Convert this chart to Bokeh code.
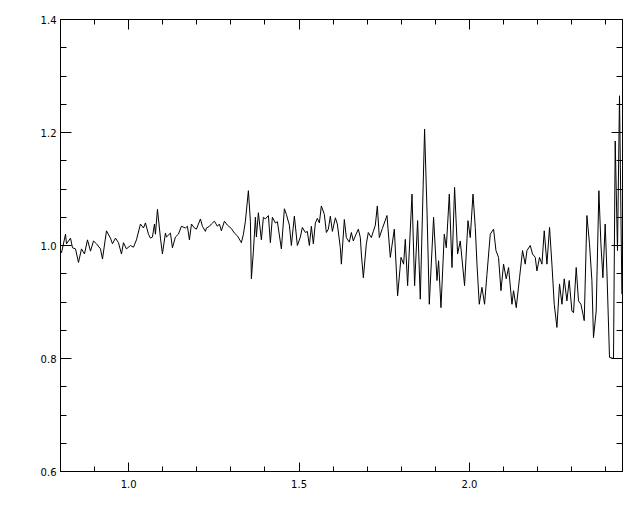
import numpy as np
from bokeh.plotting import figure
from bokeh.models import Range1d, LinearAxis, FixedTicker, PrintfTickFormatter, CustomJSTickFormatter
from bokeh.embed import file_html
from bokeh.resources import INLINE

# ---- data ----
wavelength = [
    0.8000, 0.8029, 0.8147, 0.8176, 0.8293, 0.8352, 0.8440, 0.8528, 0.8616, 0.8704,
    0.8792, 0.8880, 0.8968, 0.9056, 0.9173, 0.9232, 0.9349, 0.9466, 0.9525, 0.9613,
    0.9701, 0.9789, 0.9848, 0.9935, 1.0053, 1.0141, 1.0229, 1.0346, 1.0434, 1.0493,
    1.0581, 1.0639, 1.0698, 1.0757, 1.0786, 1.0845, 1.0933, 1.0991, 1.1079, 1.1109,
    1.1226, 1.1284, 1.1372, 1.1460, 1.1548, 1.1666, 1.1724, 1.1783, 1.1842, 1.1930,
    1.1988, 1.2106, 1.2164, 1.2252, 1.2282, 1.2370, 1.2428, 1.2516, 1.2604, 1.2663,
    1.2721, 1.2809, 1.2897, 1.3015, 1.3103, 1.3191, 1.3308, 1.3367, 1.3425, 1.3513,
    1.3572, 1.3601, 1.3660, 1.3719, 1.3748, 1.3806, 1.3894, 1.3953, 1.4012, 1.4100,
    1.4158, 1.4217, 1.4305, 1.4364, 1.4481, 1.4569, 1.4628, 1.4716, 1.4774, 1.4862,
    1.4950, 1.5038, 1.5097, 1.5185, 1.5243, 1.5302, 1.5361, 1.5419, 1.5478, 1.5537,
    1.5595, 1.5654, 1.5742, 1.5801, 1.5859, 1.5918, 1.5977, 1.6065, 1.6123, 1.6211,
    1.6241, 1.6328, 1.6387, 1.6475, 1.6534, 1.6592, 1.6651, 1.6739, 1.6798, 1.6827,
    1.6886, 1.6974, 1.7032, 1.7120, 1.7179, 1.7238, 1.7296, 1.7355, 1.7443, 1.7580,
    1.7677, 1.7795, 1.7891, 1.7991, 1.8067, 1.8117, 1.8185, 1.8314, 1.8390, 1.8478,
    1.8557, 1.8683, 1.8754, 1.8821, 1.8947, 1.9047, 1.9094, 1.9164, 1.9261, 1.9320,
    1.9408, 1.9487, 1.9563, 1.9651, 1.9730, 1.9856, 1.9956, 2.0023, 2.0103, 2.0170,
    2.0220, 2.0287, 2.0366, 2.0443, 2.0513, 2.0610, 2.0707, 2.0777, 2.0853, 2.0924,
    2.1000, 2.1079, 2.1147, 2.1246, 2.1293, 2.1372, 2.1469, 2.1557, 2.1636, 2.1686,
    2.1783, 2.1850, 2.1930, 2.1979, 2.2056, 2.2126, 2.2194, 2.2273, 2.2349, 2.2419,
    2.2487, 2.2566, 2.2642, 2.2713, 2.2780, 2.2859, 2.2926, 2.3006, 2.3053, 2.3132,
    2.3199, 2.3270, 2.3328, 2.3367, 2.3446, 2.3522, 2.3592, 2.3639, 2.3718, 2.3797,
    2.3856, 2.3915, 2.3982, 2.4032, 2.4109, 2.4226, 2.4276, 2.4343, 2.4402, 2.4472,
]
flux = [
    0.990, 0.987, 1.020, 1.003, 1.013, 0.996, 0.994, 0.970, 0.994, 0.985,
    1.010, 0.990, 1.008, 1.003, 0.994, 0.976, 1.026, 1.013, 1.003, 1.013,
    1.005, 0.985, 1.005, 0.994, 1.000, 0.997, 1.010, 1.038, 1.031, 1.040,
    1.020, 1.013, 1.015, 1.038, 1.020, 1.064, 1.013, 0.985, 1.022, 1.015,
    1.022, 0.996, 1.015, 1.020, 1.034, 1.031, 1.034, 1.010, 1.038, 1.031,
    1.029, 1.047, 1.034, 1.025, 1.031, 1.034, 1.038, 1.043, 1.034, 1.038,
    1.026, 1.043, 1.036, 1.030, 1.022, 1.017, 1.005, 1.020, 1.043, 1.097,
    1.043, 0.941, 0.990, 1.050, 1.015, 1.058, 1.010, 1.050, 1.047, 1.053,
    1.005, 1.050, 1.040, 1.042, 0.994, 1.065, 1.055, 1.036, 1.000, 1.052,
    1.000, 1.015, 1.032, 1.023, 1.025, 1.000, 1.034, 1.003, 1.040, 1.048,
    1.040, 1.070, 1.055, 1.023, 1.029, 1.052, 1.025, 1.049, 1.038, 0.996,
    0.967, 1.046, 1.014, 1.006, 1.023, 1.008, 1.017, 1.029, 1.014, 0.985,
    0.943, 1.003, 1.023, 1.014, 1.025, 1.036, 1.070, 1.014, 1.030, 1.053,
    0.979, 1.029, 0.911, 0.979, 0.967, 1.011, 0.929, 1.091, 0.929, 1.044,
    0.905, 1.206, 1.061, 0.896, 1.050, 0.938, 0.973, 0.890, 1.020, 0.996,
    1.091, 0.961, 1.103, 0.985, 1.008, 0.929, 1.044, 1.014, 1.091, 1.032,
    0.967, 0.896, 0.926, 0.896, 0.949, 1.020, 1.029, 0.991, 0.979, 0.920,
    0.967, 0.941, 0.961, 0.896, 0.920, 0.890, 0.943, 0.991, 0.967, 0.991,
    1.000, 0.985, 0.979, 0.955, 0.979, 0.967, 1.026, 0.967, 1.032, 0.967,
    0.896, 0.855, 0.932, 0.896, 0.941, 0.902, 0.938, 0.884, 0.881, 0.961,
    0.902, 0.896, 0.879, 0.867, 1.053, 1.003, 0.938, 0.837, 0.884, 1.097,
    1.003, 0.943, 1.038, 0.955, 0.802, 0.800, 1.185, 0.991, 1.265, 0.914,
]

x_major_ticks = [1.0, 1.5, 2.0]
y_major_ticks = [0.6, 0.8, 1.0, 1.2, 1.4]
x_limits = (0.8, 2.449)
y_limits = (0.6, 1.4)

x_minor = [round(v, 2) for v in np.arange(0.8, 2.45, 0.1)]
y_minor = [round(v, 3) for v in np.arange(0.6, 1.4001, 0.05)]

FONT = "DejaVu Sans"

p = figure(
    frame_width=562, frame_height=452,
    min_border_left=60, min_border_right=8, min_border_top=19, min_border_bottom=33,
    x_range=Range1d(*x_limits), y_range=Range1d(*y_limits),
    output_backend="svg", toolbar_location=None,
    background_fill_color="white", border_fill_color="white",
)
p.xgrid.visible = False
p.ygrid.visible = False
p.outline_line_color = "black"
p.outline_line_width = 1

p.line(wavelength, flux, line_color="black", line_width=1)

fmt = PrintfTickFormatter(format="%.1f")

def style(ax, major, minor, standoff):
    ax.axis_line_color = "black"
    ax.axis_line_width = 1
    ax.major_tick_in = major
    ax.major_tick_out = 0
    ax.minor_tick_in = minor
    ax.minor_tick_out = 0
    ax.major_tick_line_color = "black"
    ax.minor_tick_line_color = "black"
    ax.major_label_standoff = standoff
    ax.major_label_text_font = FONT
    ax.major_label_text_font_size = "10px"
    ax.major_label_text_color = "black"

xa = p.xaxis[0]
xa.ticker = FixedTicker(ticks=x_major_ticks, minor_ticks=x_minor)
xa.formatter = fmt
style(xa, 9, 5, 8)

ya = p.yaxis[0]
ya.ticker = FixedTicker(ticks=y_major_ticks, minor_ticks=y_minor)
ya.formatter = fmt
style(ya, 11, 6, 4)

blank = CustomJSTickFormatter(code="return '';")

top = LinearAxis(ticker=FixedTicker(ticks=x_major_ticks, minor_ticks=x_minor), formatter=blank)
style(top, 10, 5, 0)
p.add_layout(top, "above")

right = LinearAxis(ticker=FixedTicker(ticks=y_major_ticks, minor_ticks=y_minor), formatter=blank)
style(right, 11, 6, 0)
p.add_layout(right, "right")

open("out.html", "w").write(file_html(p, INLINE))
